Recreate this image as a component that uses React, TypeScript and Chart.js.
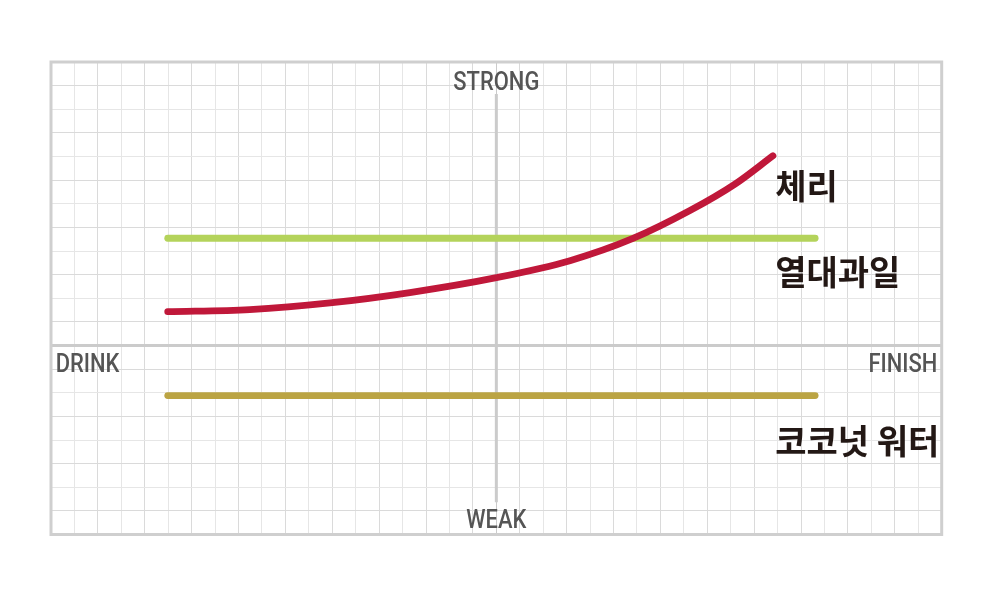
import { useEffect, useRef } from "react";
import { Chart, registerables } from "chart.js";

Chart.register(...registerables);

// Axis ranges (one unit = one grid cell)
const X_MIN = -19;
const X_MAX = 19;
const Y_MIN = -8;
const Y_MAX = 12;

// Series: 체리 (cherry) curve
const cherryX = [-14.02, -10.52, -7.1, -3.69, 0, 3.14, 5.83, 8.26, 10.18, 11.8];
const cherryY = [1.43, 1.52, 1.8, 2.24, 2.87, 3.59, 4.53, 5.71, 6.83, 8.03];
// Series: 열대과일 (tropical fruit)
const tropicalX = [-14.02, 13.6];
const tropicalY = [4.54, 4.54];
// Series: 코코넛 워터 (coconut water)
const coconutX = [-14.02, 13.6];
const coconutY = [-2.12, -2.12];

const seriesNames = ["체리", "열대과일", "코코넛 워터"];
const seriesColors = ["#c0183a", "#b4d35b", "#bba443"];
const nameX = [11.9, 11.9, 11.9];
const nameY = [6.75, 3.09, -4.04];

// Axis words: top, bottom, left, right
const axisWords = ["STRONG", "WEAK", "DRINK", "FINISH"];
// vertical centre line extent (data units)
const centerSpan = [10.65, -6.64];

const zip = (xs: number[], ys: number[]) => xs.map((x, i) => ({ x, y: ys[i] }));
const intRange = (a: number, b: number) => {
  const out: { value: number }[] = [];
  for (let v = a; v <= b; v++) out.push({ value: v });
  return out;
};

const gridColor = (c: any) => {
  const v = c.tick ? c.tick.value : 1;
  if (v === 0) return "#cbcbcb";
  return Math.abs(v) % 2 === 1 ? "#dadada" : "#e6e6e6";
};

const drawNarrow = (ctx: any, text: string, x: number, y: number, align: string, f: number) => {
  const w = ctx.measureText(text).width * f;
  let left = x;
  if (align === "center") left = x - w / 2;
  else if (align === "right") left = x - w;
  ctx.save();
  ctx.translate(left, y);
  ctx.scale(f, 1);
  ctx.textAlign = "left";
  ctx.fillText(text, 0, 0);
  ctx.restore();
};

const decor = {
  id: "decor",
  beforeDatasetsDraw(chart: any) {
    const { ctx, chartArea: a, scales } = chart;
    const x = scales.x;
    const y = scales.y;
    ctx.save();
    const cx = x.getPixelForValue(0);
    ctx.strokeStyle = "#cbcbcb";
    ctx.lineWidth = 3;
    ctx.beginPath();
    ctx.moveTo(cx, y.getPixelForValue(centerSpan[0]));
    ctx.lineTo(cx, y.getPixelForValue(centerSpan[1]));
    ctx.stroke();
    ctx.strokeStyle = "#cfcfcf";
    ctx.lineWidth = 3;
    ctx.strokeRect(a.left, a.top, a.right - a.left, a.bottom - a.top);
    ctx.restore();
  },
  afterDatasetsDraw(chart: any) {
    const { ctx, chartArea: a, scales } = chart;
    const x = scales.x;
    const y = scales.y;
    const cx = x.getPixelForValue(0);
    const cy = y.getPixelForValue(0);
    ctx.save();
    ctx.fillStyle = "#555555";
    ctx.font = '500 25px Roboto, "Liberation Sans", sans-serif';
    ctx.textBaseline = "alphabetic";
    const f = 86 / ctx.measureText(axisWords[0]).width;
    drawNarrow(ctx, axisWords[0], cx, a.top + 28.3, "center", f);
    drawNarrow(ctx, axisWords[1], cx, a.bottom - 6.8, "center", f);
    drawNarrow(ctx, axisWords[2], a.left + 4.7, cy + 26.2, "left", f);
    drawNarrow(ctx, axisWords[3], a.right - 4.4, cy + 26.2, "right", f);

    ctx.fillStyle = "#231815";
    ctx.font = 'bold 34px "Noto Sans CJK KR", sans-serif';
    ctx.textAlign = "left";
    ctx.textBaseline = "middle";
    seriesNames.forEach((n, i) => {
      ctx.fillText(n, x.getPixelForValue(nameX[i]), y.getPixelForValue(nameY[i]));
    });
    ctx.restore();
  },
};

export default function App() {
  const ref = useRef<HTMLCanvasElement>(null);
  useEffect(() => {
    const lineDs = (label: string, data: any[], color: string) => ({
      label,
      data,
      borderColor: color,
      backgroundColor: color,
      borderWidth: 6.8,
      borderCapStyle: "round" as const,
      borderJoinStyle: "round" as const,
      pointRadius: 0,
      fill: false,
      cubicInterpolationMode: "monotone" as const,
    });
    const chart = new Chart(ref.current!, {
      type: "line",
      data: {
        datasets: [
          lineDs(seriesNames[0], zip(cherryX, cherryY), seriesColors[0]),
          lineDs(seriesNames[1], zip(tropicalX, tropicalY), seriesColors[1]),
          lineDs(seriesNames[2], zip(coconutX, coconutY), seriesColors[2]),
        ],
      },
      options: {
        animation: false,
        responsive: false,
        devicePixelRatio: 1,
        layout: { padding: { left: 51, top: 62, right: 58.3, bottom: 57.5 } },
        plugins: { legend: { display: false }, tooltip: { enabled: false } },
        scales: {
          x: {
            type: "linear",
            min: X_MIN,
            max: X_MAX,
            afterBuildTicks: (s: any) => {
              s.ticks = intRange(X_MIN, X_MAX);
            },
            ticks: { display: false, stepSize: 1 },
            border: { display: false },
            grid: { color: gridColor, lineWidth: 1, drawTicks: false },
          },
          y: {
            type: "linear",
            min: Y_MIN,
            max: Y_MAX,
            afterBuildTicks: (s: any) => {
              s.ticks = intRange(Y_MIN, Y_MAX);
            },
            ticks: { display: false, stepSize: 1 },
            border: { display: false },
            grid: {
              color: gridColor,
              lineWidth: (c: any) => (c.tick && c.tick.value === 0 ? 3 : 1),
              drawTicks: false,
            },
          },
        },
      },
      plugins: [decor],
    });
    return () => chart.destroy();
  }, []);
  return (
    <div style={{ position: "absolute", left: 0, top: 0, width: 1000, height: 592, background: "#fff" }}>
      <canvas ref={ref} width={1000} height={592} style={{ display: "block" }} />
    </div>
  );
}
